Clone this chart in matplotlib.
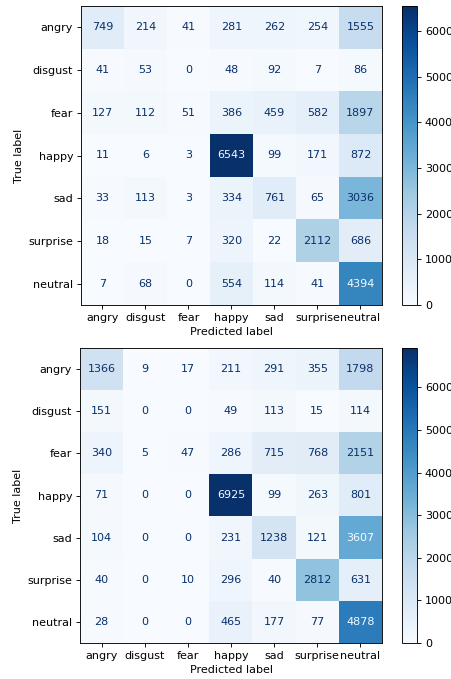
import matplotlib.pyplot as plt
import numpy as np

labels = ["angry", "disgust", "fear", "happy", "sad", "surprise", "neutral"]

cm_first = np.array([
    [749, 214, 41, 281, 262, 254, 1555],
    [41, 53, 0, 48, 92, 7, 86],
    [127, 112, 51, 386, 459, 582, 1897],
    [11, 6, 3, 6543, 99, 171, 872],
    [33, 113, 3, 334, 761, 65, 3036],
    [18, 15, 7, 320, 22, 2112, 686],
    [7, 68, 0, 554, 114, 41, 4394],
])

cm_second = np.array([
    [1366, 9, 17, 211, 291, 355, 1798],
    [151, 0, 0, 49, 113, 15, 114],
    [340, 5, 47, 286, 715, 768, 2151],
    [71, 0, 0, 6925, 99, 263, 801],
    [104, 0, 0, 231, 1238, 121, 3607],
    [40, 0, 10, 296, 40, 2812, 631],
    [28, 0, 0, 465, 177, 77, 4878],
])

# figure was rendered at a smaller dpi, so scale text and lines down
plt.rcParams.update({
    "font.size": 8,
    "axes.linewidth": 0.64,
    "xtick.major.size": 2.8,
    "ytick.major.size": 2.8,
    "xtick.major.width": 0.64,
    "ytick.major.width": 0.64,
    "xtick.major.pad": 2.8,
    "ytick.major.pad": 2.8,
    "axes.labelpad": 3.2,
})

W, H = 452, 679
fig = plt.figure(figsize=(W / 100, H / 100), dpi=100)
cmap = plt.cm.Blues


def px_box(left, top, right, bottom):
    return [left / W, 1 - bottom / H, (right - left) / W, (bottom - top) / H]


def draw_cm(cm, ax_box, cb_box):
    ax = fig.add_axes(px_box(*ax_box))
    cax = fig.add_axes(px_box(*cb_box))
    im = ax.imshow(cm, cmap=cmap, aspect="auto", interpolation="nearest")
    cb = fig.colorbar(im, cax=cax)
    cb.outline.set_linewidth(0.64)
    thresh = (cm.max() + cm.min()) / 2.0
    for i in range(cm.shape[0]):
        for j in range(cm.shape[1]):
            color = cmap(0.0) if cm[i, j] > thresh else cmap(1.0)
            ax.text(j, i, str(cm[i, j]), ha="center", va="center", color=color)
    ax.set_xticks(range(len(labels)))
    ax.set_yticks(range(len(labels)))
    ax.set_xticklabels(labels)
    ax.set_yticklabels(labels)
    ax.set_xlabel("Predicted label")
    ax.set_ylabel("True label")
    return ax


draw_cm(cm_first, (81, 6, 382, 305), (402, 6, 417, 305))
draw_cm(cm_second, (80, 348, 382, 643), (402, 348, 417, 643))

fig.savefig("out.png", dpi=100)
